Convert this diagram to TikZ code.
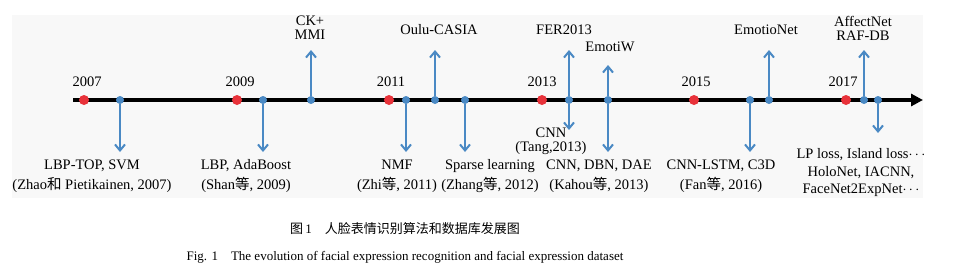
\documentclass[tikz,border=0pt]{standalone}
\usepackage{fontspec}
\setmainfont{Liberation Serif}
\newfontfamily\cjk{Noto Sans CJK SC}
\usetikzlibrary{arrows.meta}
\definecolor{tlblue}{HTML}{4A89C4}
\definecolor{tlred}{HTML}{E8323A}
\definecolor{panel}{HTML}{F8F8F8}
\begin{document}
\begin{tikzpicture}[x=1pt,y=-1pt,
  reddot/.style={circle,fill=tlred,minimum size=10pt,inner sep=0pt},
  bdot/.style={circle,fill=tlblue,minimum size=8pt,inner sep=0pt},
  barrow/.style={draw=tlblue,line width=2pt,-{Straight Barb[length=6pt,width=10pt,line width=2pt]}},
  yr/.style={font=\fontsize{14.5}{16}\selectfont,inner sep=0pt},
  lab/.style={font=\fontsize{14.5}{20}\selectfont,align=center,inner sep=0pt},
  tight/.style={font=\fontsize{14.5}{14}\selectfont,align=center,inner sep=0pt}]
\useasboundingbox (0,0) rectangle (978,271);
\fill[white] (0,0) rectangle (978,271);
\fill[panel] (12,15) rectangle (923,198);
% timeline
\coordinate (ls) at (73,100);
\coordinate (le) at (923,100);
\draw[line width=3.5pt,-{Triangle[length=12pt,width=12pt]}] (ls) -- (le);
% years
\node[reddot] (y2007) at (84,100) {};
\node[reddot] (y2009) at (237,100) {};
\node[reddot] (y2011) at (389,100) {};
\node[reddot] (y2013) at (542,100) {};
\node[reddot] (y2015) at (694,100) {};
\node[reddot] (y2017) at (846,100) {};
\node[yr] (t2007) at (87,82) {2007};
\node[yr] (t2009) at (240,82) {2009};
\node[yr] (t2011) at (391,82) {2011};
\node[yr] (t2013) at (542,82) {2013};
\node[yr] (t2015) at (696,82) {2015};
\node[yr] (t2017) at (843,82) {2017};
% blue events
\node[bdot] (b1) at (120,100) {};
\node[bdot] (b2) at (263,100) {};
\node[bdot] (b3) at (311,100) {};
\node[bdot] (b4) at (406,100) {};
\node[bdot] (b5) at (435,100) {};
\node[bdot] (b6) at (465,100) {};
\node[bdot] (b7) at (569,100) {};
\node[bdot] (b8) at (608,100) {};
\node[bdot] (b9) at (750,100) {};
\node[bdot] (b10) at (769,100) {};
\node[bdot] (b11) at (864,100) {};
\node[bdot] (b12) at (878,100) {};
\coordinate (e1) at (120,152);
\coordinate (e2) at (263,152);
\coordinate (e3) at (311,50);
\coordinate (e4) at (406,152);
\coordinate (e5) at (435,50);
\coordinate (e6) at (465,152);
\coordinate (e7u) at (569,50);
\coordinate (e7d) at (569,130);
\coordinate (e8u) at (608,65);
\coordinate (e8d) at (608,152);
\coordinate (e9) at (750,152);
\coordinate (e10) at (769,50);
\coordinate (e11) at (864,50);
\coordinate (e12) at (878,133);
\foreach \a/\b in {b1/e1,b2/e2,b3/e3,b4/e4,b5/e5,b6/e6,b7/e7u,b7/e7d,b8/e8u,b8/e8d,b9/e9,b10/e10,b11/e11,b12/e12}
  \draw[barrow] (\a) -- (\b);
% labels
\node[lab] (l1) at (92,176) {LBP-TOP, SVM\\(Zhao{\cjk 和} Pietikainen, 2007)};
\node[lab] (l2) at (246,176) {LBP, AdaBoost\\(Shan{\cjk 等}, 2009)};
\node[tight] (l3) at (310,28) {CK+\\MMI};
\node[lab] (l4) at (397,176) {NMF\\(Zhi{\cjk 等}, 2011)};
\node[yr] (l5) at (439,30) {Oulu-CASIA};
\node[lab] (l6) at (490,176) {Sparse learning\\(Zhang{\cjk 等}, 2012)};
\node[yr] (l7u) at (564,30) {FER2013};
\node[tight] (l7d) at (551,141.5) {CNN\\(Tang,2013)};
\node[yr] (l8u) at (610,47) {EmotiW};
\node[lab] (l8d) at (599,176) {CNN, DBN, DAE\\(Kahou{\cjk 等}, 2013)};
\node[lab] (l9) at (721,176) {CNN-LSTM, C3D\\(Fan{\cjk 等}, 2016)};
\node[yr] (l10) at (766,30) {EmotioNet};
\node[tight] (l11) at (863,28) {AffectNet\\RAF-DB};
\node[font=\fontsize{14.5}{17.5}\selectfont,align=center,inner sep=0pt] (l12) at (861,173) {LP loss, Island loss$\cdots$\\HoloNet, IACNN,\\FaceNet2ExpNet$\cdots$};
% caption
\node[font=\fontsize{13}{15}\selectfont,inner sep=0pt] (cap1) at (405,229) {{\cjk 图}\,1\quad{\cjk 人脸表情识别算法和数据库发展图}};
\node[font=\fontsize{13}{15}\selectfont,inner sep=0pt] (cap2) at (405,257) {Fig. 1\quad The evolution of facial expression recognition and facial expression dataset};
\end{tikzpicture}
\end{document}
